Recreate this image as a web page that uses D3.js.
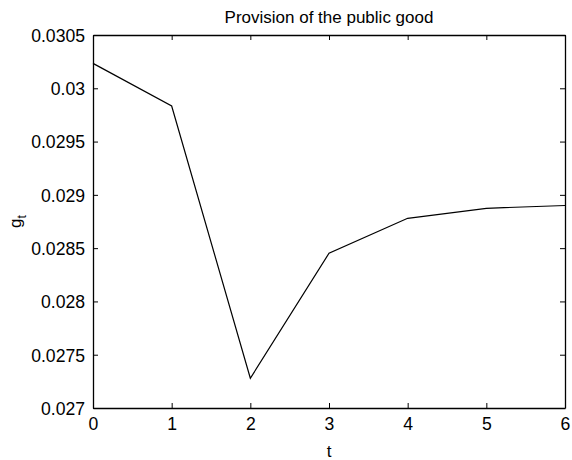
<!DOCTYPE html>
<html><head><meta charset="utf-8">
<script src="https://cdn.jsdelivr.net/npm/d3@7"></script>
<style>body{margin:0;background:#fff}svg{display:block}text{font-family:"Liberation Sans",Arial,Helvetica,sans-serif}</style>
</head><body>
<svg id="c" width="572" height="460"></svg>
<script>
const tValues = [0, 1, 2, 3, 4, 5, 6];
const gValues = [0.030234, 0.029834, 0.027279, 0.028452, 0.02878, 0.028874, 0.0289];
const xTicks = [0, 1, 2, 3, 4, 5, 6];
const yTicks = [0.027, 0.0275, 0.028, 0.0285, 0.029, 0.0295, 0.03, 0.0305];
const yTickLabels = ["0.027", "0.0275", "0.028", "0.0285", "0.029", "0.0295", "0.03", "0.0305"];
const titleText = "Provision of the public good";

const svg = d3.select("#c");
const L = 93, R = 565, T = 35, B = 408;
const fs = 17;
const tfs = 17.6;
const x = d3.scaleLinear().domain([0, 6]).range([L, R]);
const y = d3.scaleLinear().domain([0.027, 0.0305]).range([B, T]);

svg.append("rect").attr("x",0).attr("y",0).attr("width",572).attr("height",460).attr("fill","#fff");

const tk = 5;
const gB = svg.append("g").attr("transform",`translate(0,${B})`)
  .call(d3.axisBottom(x).tickValues(xTicks).tickSizeInner(-tk).tickSizeOuter(0).tickPadding(10).tickFormat(d3.format("d")));
const gT = svg.append("g").attr("transform",`translate(0,${T})`)
  .call(d3.axisTop(x).tickValues(xTicks).tickSizeInner(-tk).tickSizeOuter(0).tickFormat(""));
const gL = svg.append("g").attr("transform",`translate(${L},0)`)
  .call(d3.axisLeft(y).tickValues(yTicks).tickSizeInner(-tk).tickSizeOuter(0).tickPadding(8).tickFormat((d,i)=>yTickLabels[i]));
const gR = svg.append("g").attr("transform",`translate(${R},0)`)
  .call(d3.axisRight(y).tickValues(yTicks).tickSizeInner(-tk).tickSizeOuter(0).tickFormat(""));

[gB,gT,gL,gR].forEach(g=>{
  g.selectAll("path.domain").attr("stroke","#000").attr("stroke-width",1.3);
  g.selectAll(".tick line").attr("stroke","#000").attr("stroke-width",1);
  g.selectAll("text").attr("fill","#000").style("font-size",tfs+"px").style("font-family",'"Liberation Sans",Arial,sans-serif');
});
gL.selectAll("text").attr("dy","0.36em");

const line = d3.line().x((d,i)=>x(tValues[i])).y(d=>y(d));
svg.append("path").datum(gValues).attr("d",line).attr("fill","none").attr("stroke","#000").attr("stroke-width",1.2);

svg.append("text").attr("x",(L+R)/2).attr("y",23).attr("text-anchor","middle")
  .style("font-size",fs+"px").text(titleText);
svg.append("text").attr("x",(L+R)/2).attr("y",457).attr("text-anchor","middle")
  .style("font-size",fs+"px").text("t");
const yl = svg.append("text").attr("transform",`translate(21,${(T+B)/2}) rotate(-90)`).attr("text-anchor","middle")
  .style("font-size",fs+"px");
yl.append("tspan").text("g");
yl.append("tspan").attr("dy",5).style("font-size","12px").text("t");
</script>
</body></html>
